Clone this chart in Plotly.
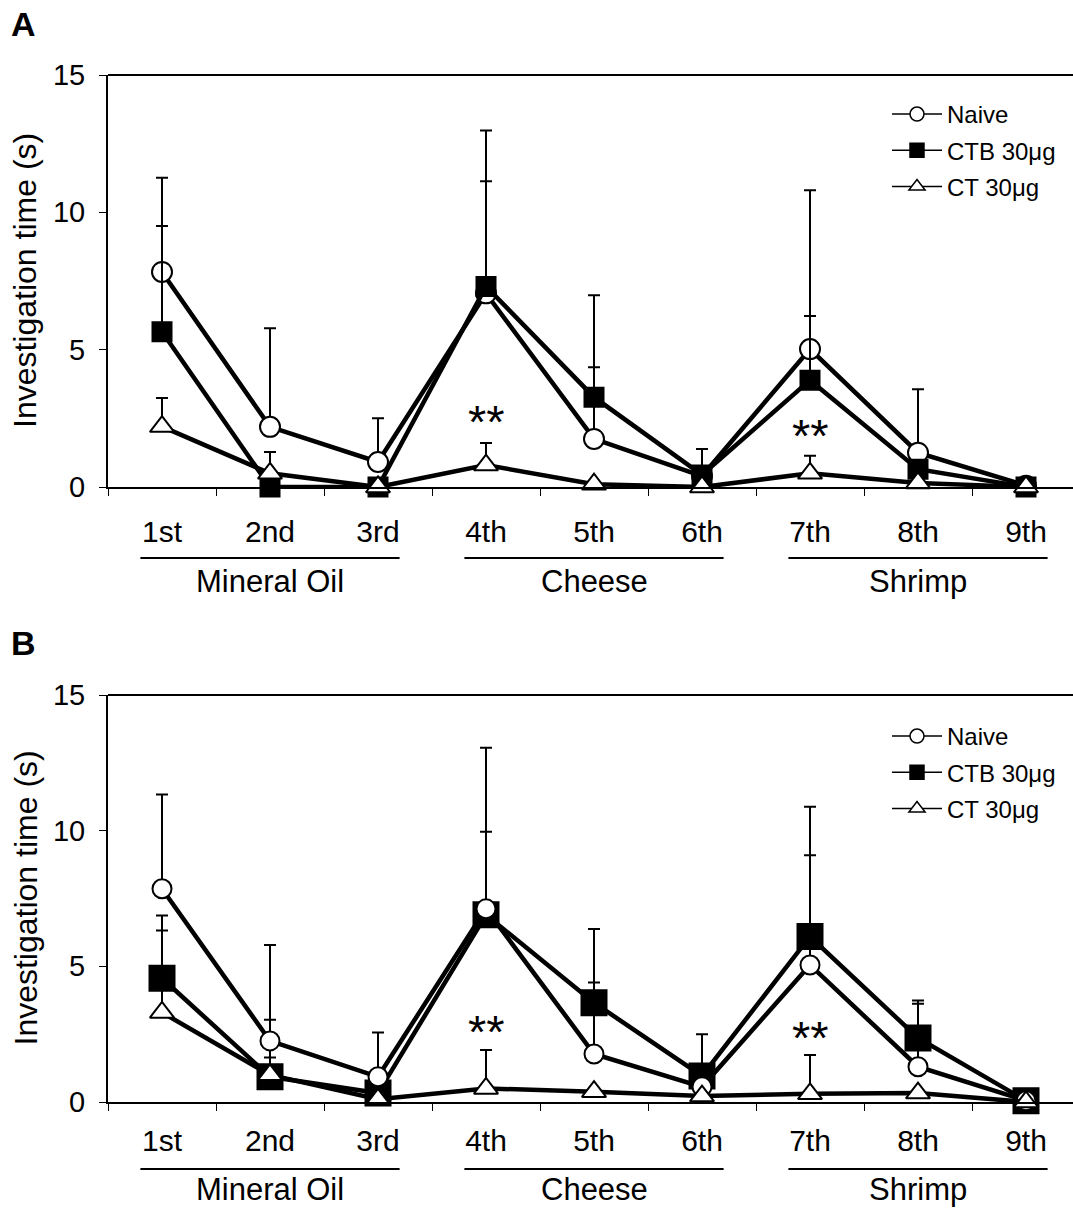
import plotly.graph_objects as go

categories = ["1st", "2nd", "3rd", "4th", "5th", "6th", "7th", "8th", "9th"]
groups = ["Mineral Oil", "Cheese", "Shrimp"]
series_names = ["Naive", "CTB 30μg", "CT 30μg"]

# Panel A values (s) and upper error bars
a_naive = [7.83, 2.19, 0.91, 7.05, 1.75, 0.40, 5.02, 1.25, 0.05]
a_ctb = [5.65, 0.0, 0.0, 7.30, 3.27, 0.44, 3.89, 0.65, 0.0]
a_ct = [2.20, 0.50, 0.0, 0.80, 0.10, 0.0, 0.50, 0.15, 0.0]
a_naive_err = [3.43, 3.59, 1.59, 4.08, 2.61, None, 5.78, 2.31, None]
a_ctb_err = [3.85, None, None, 5.68, 3.71, 0.94, 2.34, None, None]
a_ct_err = [1.04, 0.77, None, 0.80, None, None, 0.64, None, None]

# Panel B values (s) and upper error bars
b_naive = [7.86, 2.25, 0.93, 7.12, 1.77, 0.56, 5.05, 1.30, 0.05]
b_ctb = [4.56, 0.93, 0.33, 6.90, 3.66, 0.96, 6.10, 2.36, 0.05]
b_ct = [3.30, 1.00, 0.10, 0.50, 0.38, 0.22, 0.30, 0.33, 0.0]
b_naive_err = [3.47, 3.54, 1.63, 5.94, 2.63, None, 4.04, 2.32, None]
b_ctb_err = [2.31, 2.10, None, 3.06, 2.72, 1.54, 4.78, 1.38, None]
b_ct_err = [3.02, 0.64, None, 1.42, None, None, 1.43, None, None]

# significance marks: (category index, y position)
a_sig = [(3, 2.55), (6, 2.07)]
b_sig = [(3, 2.77), (6, 2.58)]

FONT = "Liberation Sans, Arial, sans-serif"
W, H = 1073, 1209

styles = {
    "Naive": dict(symbol="circle", color="white"),
    "CTB 30μg": dict(symbol="square", color="black"),
    "CT 30μg": dict(symbol="triangle-up", color="white"),
}

fig = go.Figure()


def add_series(name, y, err, xa, ya, msize):
    st = styles[name]
    fig.add_trace(go.Scatter(
        x=categories, y=y, name=name, mode="lines+markers",
        xaxis=xa, yaxis=ya, showlegend=False, cliponaxis=False,
        line=dict(color="black", width=4.5),
        marker=dict(symbol=st["symbol"], size=msize, color=st["color"],
                    line=dict(color="black", width=2)),
        error_y=dict(type="data", array=err, arrayminus=[0] * len(err),
                     symmetric=False, color="black", thickness=2, width=6),
    ))


def add_legend_entries(legend_id):
    for name in series_names:
        st = styles[name]
        fig.add_trace(go.Scatter(
            x=[None], y=[None], name=name, mode="lines+markers",
            legend=legend_id, legendgroup=legend_id + name, showlegend=True,
            line=dict(color="black", width=1.5),
            marker=dict(symbol=st["symbol"], size=14, color=st["color"],
                        line=dict(color="black", width=1.5)),
        ))


# Panel A (draw order: naive, CTB, CT)
add_series("Naive", a_naive, a_naive_err, "x", "y", 20)
add_series("CTB 30μg", a_ctb, a_ctb_err, "x", "y", 19)
add_series("CT 30μg", a_ct, a_ct_err, "x", "y", 21)
# Panel B (draw order: CTB, naive, CT)
add_series("CTB 30μg", b_ctb, b_ctb_err, "x2", "y2", 25)
add_series("Naive", b_naive, b_naive_err, "x2", "y2", 19)
add_series("CT 30μg", b_ct, b_ct_err, "x2", "y2", 21)

add_legend_entries("legend")
add_legend_entries("legend2")

# geometry (pixels)
left_px = 108
PW = W - left_px
a_top, a_bot = 75, 487
b_top, b_bot = 695, 1102
xr = [-0.5, -0.5 + PW / 108.0]


def px_x(px):
    return (px - left_px) / PW


axis_common = dict(showline=True, linecolor="black", linewidth=2,
                   ticks="outside", ticklen=7, tickwidth=1, tickcolor="black",
                   showgrid=False, zeroline=False,
                   tickfont=dict(family=FONT, size=30, color="black"))

x_common = dict(axis_common, type="category", range=xr, tickson="boundaries",
                categoryorder="array", categoryarray=categories)
y_common = dict(axis_common, range=[0, 15], tickvals=[0, 5, 10, 15],
                tickfont=dict(family=FONT, size=29, color="black"),
                ticklabelstandoff=8)

legend_common = dict(xref="paper", yref="paper", xanchor="left", yanchor="top",
                     traceorder="grouped", tracegroupgap=2,
                     font=dict(family=FONT, size=24, color="black"),
                     bgcolor="rgba(0,0,0,0)", itemwidth=50)

fig.update_layout(
    width=W, height=H,
    margin=dict(l=left_px, r=0, t=0, b=0, autoexpand=False),
    paper_bgcolor="white", plot_bgcolor="white",
    font=dict(family=FONT, color="black"),
    xaxis=dict(x_common, domain=[0, 1], anchor="y", ticklabelstandoff=17),
    yaxis=dict(y_common, domain=[1 - a_bot / H, 1 - a_top / H], anchor="x"),
    xaxis2=dict(x_common, domain=[0, 1], anchor="y2", ticklabelstandoff=11),
    yaxis2=dict(y_common, domain=[1 - b_bot / H, 1 - b_top / H], anchor="x2"),
    legend=dict(legend_common, x=px_x(887), y=1 - 92 / H),
    legend2=dict(legend_common, x=px_x(887), y=1 - 714 / H),
)

shapes = []
annotations = []
for xa, ya, bot, top_px in (("x", "y", a_bot, a_top), ("x2", "y2", b_bot, b_top)):
    span = bot - top_px
    # top frame line
    shapes.append(dict(type="line", xref=xa + " domain", yref=ya + " domain",
                       x0=0, x1=1, y0=1, y1=1, line=dict(color="black", width=2)))
    line_off = 71 if ya == "y" else 67
    for gi, g in enumerate(groups):
        i0, i1 = gi * 3, gi * 3 + 2
        shapes.append(dict(type="line", xref=xa, yref=ya + " domain",
                           x0=i0 - 0.2, x1=i1 + 0.2,
                           y0=-line_off / span, y1=-line_off / span,
                           line=dict(color="black", width=2)))
        if ya == "y":
            ann_y, ann_anchor = -94 / span, "middle"
        else:
            ann_y, ann_anchor = -(H - bot) / span, "bottom"
        annotations.append(dict(text=g, xref=xa, yref=ya + " domain",
                                x=i0 + 1, y=ann_y, showarrow=False,
                                xanchor="center", yanchor=ann_anchor,
                                font=dict(family=FONT, size=31, color="black")))
    annotations.append(dict(text="Investigation time (s)", textangle=-90,
                            xref="paper", yref=ya + " domain", x=px_x(25), y=0.5,
                            xanchor="center", yanchor="middle", showarrow=False,
                            font=dict(family=FONT, size=32, color="black")))

for xa, ya, sig in (("x", "y", a_sig), ("x2", "y2", b_sig)):
    for idx, yv in sig:
        annotations.append(dict(text="**", xref=xa, yref=ya, x=categories[idx], y=yv,
                                showarrow=False, xanchor="center", yanchor="middle",
                                yshift=-5,
                                font=dict(family=FONT, size=47, color="black")))

for letter, ypx in (("A", 24), ("B", 643)):
    annotations.append(dict(text="<b>" + letter + "</b>", xref="paper", yref="paper",
                            x=px_x(9), y=1 - ypx / H, xanchor="left", yanchor="middle",
                            showarrow=False,
                            font=dict(family=FONT, size=34, color="black")))

fig.update_layout(shapes=shapes, annotations=annotations)
fig.write_html("out.html", config={"displayModeBar": False},
               post_script="document.body.style.margin='0';")
